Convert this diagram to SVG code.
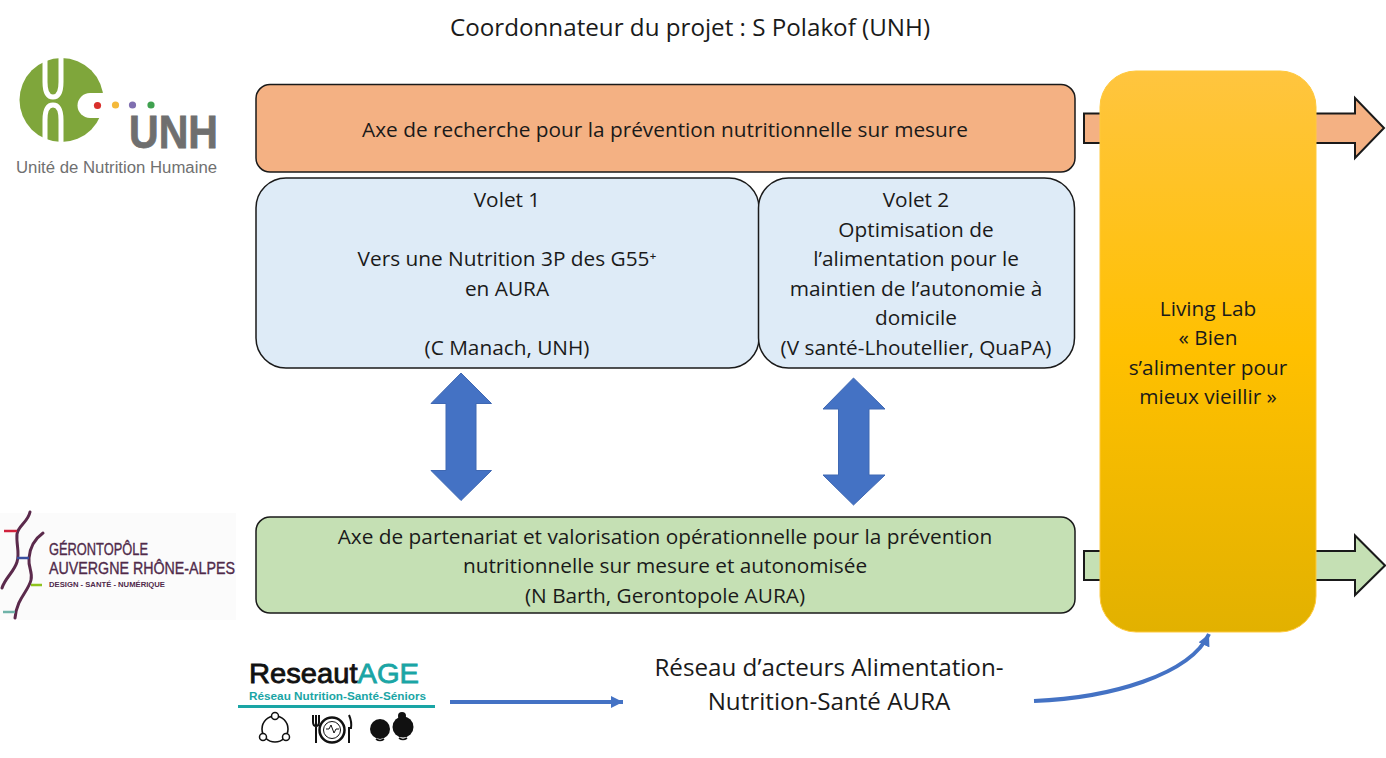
<svg xmlns="http://www.w3.org/2000/svg" width="1386" height="758" viewBox="0 0 1386 758">
<style>
.t{font-family:"Open Sans","Noto Sans",sans-serif;font-size:20.8px;fill:#1a1a1a;text-anchor:middle}
.big{font-size:24.2px}
.box{stroke:#1a1a1a;stroke-width:1.5}
.arr{stroke:#1a1a1a;stroke-width:2}
.dbl{fill:#4472c4;stroke:#3f68b3;stroke-width:1}
.conn{fill:none;stroke:#4472c4;stroke-width:4}
.gero{fill:none;stroke:#5b2a4c;stroke-width:3;stroke-linecap:round}
.lg{font-family:"Liberation Sans",sans-serif}
.gt{fill:#4f2a4a;stroke:#4f2a4a;stroke-width:.35}
.ic{fill:none;stroke:#111;stroke-width:1.6}
</style>
<defs>
<linearGradient id="gold" x1="0" y1="0" x2="0" y2="1">
<stop offset="0" stop-color="#ffc53f"/><stop offset="0.5" stop-color="#ffc000"/><stop offset="1" stop-color="#e2b100"/>
</linearGradient>
<marker id="mh" markerUnits="userSpaceOnUse" markerWidth="13" markerHeight="13" refX="12" refY="6" orient="auto"><path d="M0,0L12,6L0,12Z" fill="#4472c4"/></marker>
</defs>
<rect width="1386" height="758" fill="#fff"/>
<text class="t big" x="690" y="36">Coordonnateur du projet : S Polakof (UNH)</text>

<g id="logo-unh">
<circle cx="61.500" cy="100" r="42" fill="#7fa63b"/>
<path d="M45,56V82Q45,97 53,97Q61,97 61,82V56" fill="none" stroke="#fff" stroke-width="5"/>
<path d="M45,146V120Q45,105 53,105Q61,105 61,120V146" fill="none" stroke="#fff" stroke-width="5"/>
<path d="M104,93H90A12.500,12.500 0 0 0 90,118H104Z" fill="#fff"/>
<circle cx="97.500" cy="105.500" r="3.600" fill="#d9302c"/>
<circle cx="115.500" cy="105" r="3.600" fill="#f4b93a"/>
<circle cx="132.500" cy="105" r="3.600" fill="#7f6fb0"/>
<circle cx="151" cy="105" r="3.600" fill="#3fa14f"/>
<text class="lg" x="129" y="148" textLength="89" lengthAdjust="spacingAndGlyphs" style="font-weight:700;font-size:46px;fill:#6f6f6f;stroke:#6f6f6f;stroke-width:.8">UNH</text>
<text class="lg" x="16" y="173" textLength="201" lengthAdjust="spacingAndGlyphs" style="font-size:16px;fill:#707070">Unité de Nutrition Humaine</text>
</g>

<g id="logo-gerontopole">
<rect x="0" y="513" width="236" height="107" fill="#fbfbfb"/>
<path class="gero" d="M30,512C28,522 18,526 17,534C16,545 20,552 17,562C14,572 5,578 2,588"/>
<path class="gero" d="M43,533C36,538 30,546 29,558C28,568 33,572 31,580C28,592 17,598 15,618"/>
<path d="M4,531H17" stroke="#d0223c" stroke-width="2.500"/>
<path d="M17,558H29" stroke="#3a4f9f" stroke-width="2.500"/>
<path d="M31,585H42" stroke="#8fc31f" stroke-width="2.500"/>
<path d="M3,612H15" stroke="#6fb3a8" stroke-width="2.500"/>
<text class="lg gt" x="49" y="555" textLength="99" lengthAdjust="spacingAndGlyphs" style="font-size:17px">GÉRONTOPÔLE</text>
<text class="lg gt" x="49" y="574" textLength="186" lengthAdjust="spacingAndGlyphs" style="font-size:17px">AUVERGNE RHÔNE-ALPES</text>
<text class="lg" x="49" y="587" textLength="116" lengthAdjust="spacingAndGlyphs" style="font-size:8px;fill:#4f2a4a;font-weight:700">DESIGN - SANTÉ - NUMÉRIQUE</text>
</g>

<g id="logo-reseautage">
<text class="lg" x="249" y="683" textLength="170" lengthAdjust="spacingAndGlyphs" style="font-size:28px;fill:#111;stroke:#111;stroke-width:.8">Reseaut<tspan fill="#1aa5a5" stroke="#1aa5a5">AGE</tspan></text>
<text class="lg" x="249" y="700" textLength="177" lengthAdjust="spacingAndGlyphs" style="font-size:11.500px;font-weight:700;fill:#1aa5a5">Réseau Nutrition-Santé-Séniors</text>
<rect x="238" y="705" width="197" height="3" fill="#1aa5a5"/>
<circle class="ic" cx="275" cy="729" r="13"/>
<circle cx="275" cy="716" r="3.500" fill="#fff" stroke="#111" stroke-width="1.500"/>
<circle cx="263" cy="737" r="3.500" fill="#fff" stroke="#111" stroke-width="1.500"/>
<circle cx="286" cy="737" r="3.500" fill="#fff" stroke="#111" stroke-width="1.500"/>
<circle cx="332" cy="730" r="12.500" fill="none" stroke="#111" stroke-width="2.500"/>
<circle cx="332" cy="730" r="8.500" fill="none" stroke="#111" stroke-width="1"/>
<path d="M326,729H329L331,725L334,733L336,729H339" fill="none" stroke="#111" stroke-width="1"/>
<path d="M313,715V722Q313,726 316,726Q319,726 319,722V715M316,715V743M349,715Q352,722 351,728H349V743" fill="none" stroke="#111" stroke-width="2"/>
<circle cx="380" cy="729" r="10" fill="#111"/>
<path d="M376,739Q380,742 384,739" class="ic"/>
<circle cx="403" cy="727" r="10.500" fill="#111"/>
<circle cx="402" cy="716" r="4" fill="#111"/>
<path d="M399,738Q403,741 407,738" class="ic"/>
</g>

<g id="arrow-orange"><path class="arr" fill="#f4b183" d="M1084,113.500H1355V98L1384,128L1355,158V143H1084Z"/></g>
<g id="arrow-green"><path class="arr" fill="#c5e0b4" d="M1084,551H1355V535.500L1385,565.500L1355,595V580H1084Z"/></g>

<g id="axe-recherche">
<rect class="box" x="256" y="84.500" width="819" height="87.500" rx="14" fill="#f4b183"/>
<text class="t" x="665" y="136.500">Axe de recherche pour la prévention nutritionnelle sur mesure</text>
</g>
<g id="volet-1">
<rect class="box" x="256" y="178" width="503" height="190" rx="30" fill="#deebf7"/>
<text class="t" x="507" y="206.500">Volet 1</text>
<text class="t" x="507" y="265.500">Vers une Nutrition 3P des G55⁺</text>
<text class="t" x="507" y="295.500">en AURA</text>
<text class="t" x="507" y="354.500">(C Manach, UNH)</text>
</g>
<g id="volet-2">
<rect class="box" x="758.500" y="178" width="316" height="190" rx="30" fill="#deebf7"/>
<text class="t" x="916" y="206.500">Volet 2</text>
<text class="t" x="916" y="236.500">Optimisation de</text>
<text class="t" x="916" y="265.500">l’alimentation pour le</text>
<text class="t" x="916" y="295.500">maintien de l’autonomie à</text>
<text class="t" x="916" y="324.500">domicile</text>
<text class="t" x="916" y="354.500">(V santé-Lhoutellier, QuaPA)</text>
</g>
<g id="axe-partenariat">
<rect class="box" x="256" y="517" width="819" height="96" rx="14" fill="#c5e0b4"/>
<text class="t" x="665" y="543.500">Axe de partenariat et valorisation opérationnelle pour la prévention</text>
<text class="t" x="665" y="572.500">nutritionnelle sur mesure et autonomisée</text>
<text class="t" x="665" y="602.500">(N Barth, Gerontopole AURA)</text>
</g>
<g id="living-lab">
<rect x="1100" y="71" width="216" height="561" rx="36" fill="url(#gold)" stroke="#ffc93c" stroke-width="1"/>
<text class="t" x="1208" y="315.500">Living Lab</text>
<text class="t" x="1208" y="344.500">« Bien</text>
<text class="t" x="1208" y="374.500">s’alimenter pour</text>
<text class="t" x="1208" y="403.500">mieux vieillir »</text>
</g>
<g id="reseau">
<text class="t big" x="829" y="676">Réseau d’acteurs Alimentation-</text>
<text class="t big" x="829" y="710">Nutrition-Santé AURA</text>
</g>
<g id="connectors">
<path class="dbl" d="M461,373L491.500,403.500H476V470.500H491.500L461,500.500L431,470.500H446V403.500H431Z"/>
<path class="dbl" d="M853.500,378L885,409H869V475H885L853.500,505L823,475H838.500V409H823Z"/>
<path class="conn" d="M450,702H623" marker-end="url(#mh)"/>
<path class="conn" d="M1034,701C1110,698 1190,675 1209,634" marker-end="url(#mh)"/>
</g>
</svg>
